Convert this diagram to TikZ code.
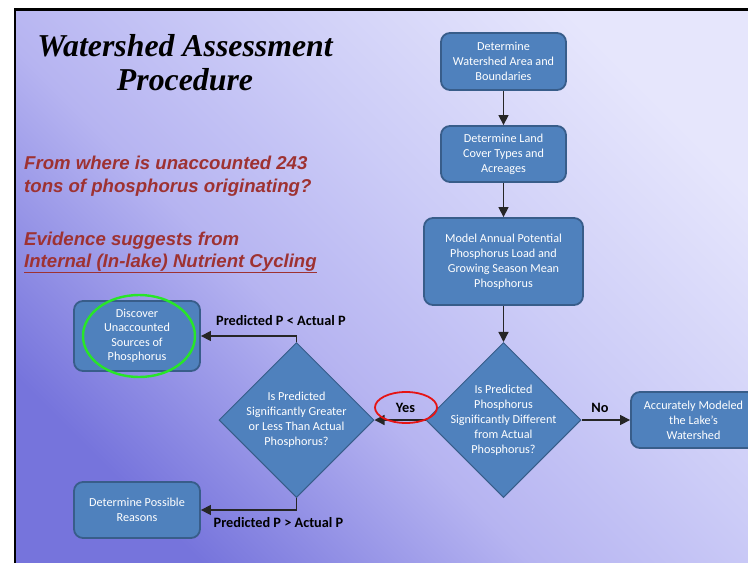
\documentclass[tikz,border=0pt]{standalone}
\usepackage{fontspec}
\setmainfont{Carlito}
\newfontfamily\titlefont{Liberation Serif}
\newfontfamily\redfont{Liberation Sans}
\usetikzlibrary{shapes.geometric,arrows.meta}
\definecolor{boxfill}{RGB}{79,129,189}
\definecolor{boxline}{RGB}{56,93,138}
\definecolor{redtxt}{RGB}{158,50,50}
\definecolor{bgdark}{RGB}{118,116,220}
\definecolor{bgmid}{RGB}{182,180,241}
\definecolor{bgmid2}{RGB}{204,204,247}
\definecolor{bglight}{RGB}{230,230,252}
\definecolor{hlgreen}{RGB}{40,230,40}
\definecolor{hlred}{RGB}{230,20,20}
\pgfdeclareverticalshading{slidebg}{100bp}{color(0bp)=(bgdark); color(25bp)=(bgdark); color(43bp)=(bgmid); color(57bp)=(bgmid2); color(75bp)=(bglight); color(100bp)=(bglight)}
\tikzset{
  procbox/.style={rectangle, rounded corners=9pt, fill=boxfill, draw=boxline, line width=1.8pt,
    text=white, align=center, inner sep=0pt, font=\fontsize{12.2}{15}\selectfont},
  decision/.style={diamond, aspect=1, fill=boxfill, draw=boxline, line width=1pt, inner sep=0pt,
    minimum width=155pt, minimum height=155pt},
  dtext/.style={text=white, align=center, font=\fontsize{12.2}{15}\selectfont},
  conn/.style={draw=black!85, line width=1.3pt, -{Triangle[length=10pt,width=10pt]}},
  lbl/.style={font=\bfseries\fontsize{14.3}{16}\selectfont, text=black, inner sep=0pt},
  redst/.style={font=\redfont\bfseries\itshape\fontsize{18.6}{23}\selectfont, text=redtxt, inner sep=0pt, anchor=base west},
  titlest/.style={font=\titlefont\bfseries\itshape\fontsize{31.8}{34}\selectfont, align=center, inner sep=0pt},
  hl/.style={ellipse, line width=2.4pt, inner sep=0pt}
}
\begin{document}
\begin{tikzpicture}[x=1pt,y=-1pt]
\useasboundingbox (0,0) rectangle (748,563);
\clip (0,0) rectangle (748,563);
\fill[white] (0,0) rectangle (748,563);
\shade[shading=slidebg, shading angle=-45] (15,9.5) rectangle (760,570);
\draw[line width=2.5pt, black] (15,570) -- (15,9.5) -- (760,9.5);

% title and side texts
\node[titlest] (title) at (185,63) {Watershed Assessment\\Procedure};
\node[redst] (q1) at (24,169) {From where is unaccounted 243};
\node[redst] (q2) at (24,192) {tons of phosphorus originating?};
\node[redst] (e1) at (24,245) {Evidence suggests from};
\node[redst] (e2) at (24,267) {\underline{Internal (In-lake) Nutrient Cycling}};

% process boxes
\node[procbox, minimum width=125pt, minimum height=57pt] (b1) at (503.5,61.5) {Determine\\Watershed Area and\\Boundaries};
\node[procbox, minimum width=125pt, minimum height=56pt] (b2) at (503.5,154) {Determine Land\\Cover Types and\\Acreages};
\node[procbox, minimum width=159pt, minimum height=87pt] (b3) at (503.5,261.5) {Model Annual Potential\\Phosphorus Load and\\Growing Season Mean\\Phosphorus};
\node[decision, label={[dtext]center:{Is Predicted\\Phosphorus\\Significantly Different\\from Actual\\Phosphorus?}}] (d1) at (503.5,420) {};
\node[decision, label={[dtext]center:{Is Predicted\\Significantly Greater\\or Less Than Actual\\Phosphorus?}}] (d2) at (296.5,420) {};
\node[procbox, minimum width=125pt, minimum height=56pt] (acc) at (693.5,420) {Accurately Modeled\\the Lake’s\\Watershed};
\node[procbox, minimum width=126pt, minimum height=70pt, font=\fontsize{12.2}{14.5}\selectfont] (disc) at (137,336) {Discover\\Unaccounted\\Sources of\\Phosphorus};
\node[procbox, minimum width=126pt, minimum height=56pt] (reas) at (137,510) {Determine Possible\\Reasons};

% connectors
\draw[conn] (b1) -- (b2);
\draw[conn] (b2) -- (b3);
\draw[conn] (b3) -- (d1);
\draw[conn] (d1.west) -- (d2.east);
\draw[conn] (d1.east) -- (acc.west);
\draw[conn] (d2.north) |- (disc.east);
\draw[conn] (d2.south) |- (reas.east);

% labels
\node[lbl, anchor=base] (yes) at (405.5,412) {Yes};
\node[lbl, anchor=base] (no) at (600,412) {No};
\node[lbl, anchor=base] (lt) at (281,325.5) {Predicted P < Actual P};
\node[lbl, anchor=base] (gt) at (278.5,527) {Predicted P > Actual P};

% highlight ellipses
\node[hl, draw=hlgreen, minimum width=112pt, minimum height=82pt] (hlg) at (139,336) {};
\node[hl, draw=hlred, line width=1.8pt, minimum width=62pt, minimum height=31pt] (hlr) at (406,407.5) {};
\end{tikzpicture}
\end{document}
